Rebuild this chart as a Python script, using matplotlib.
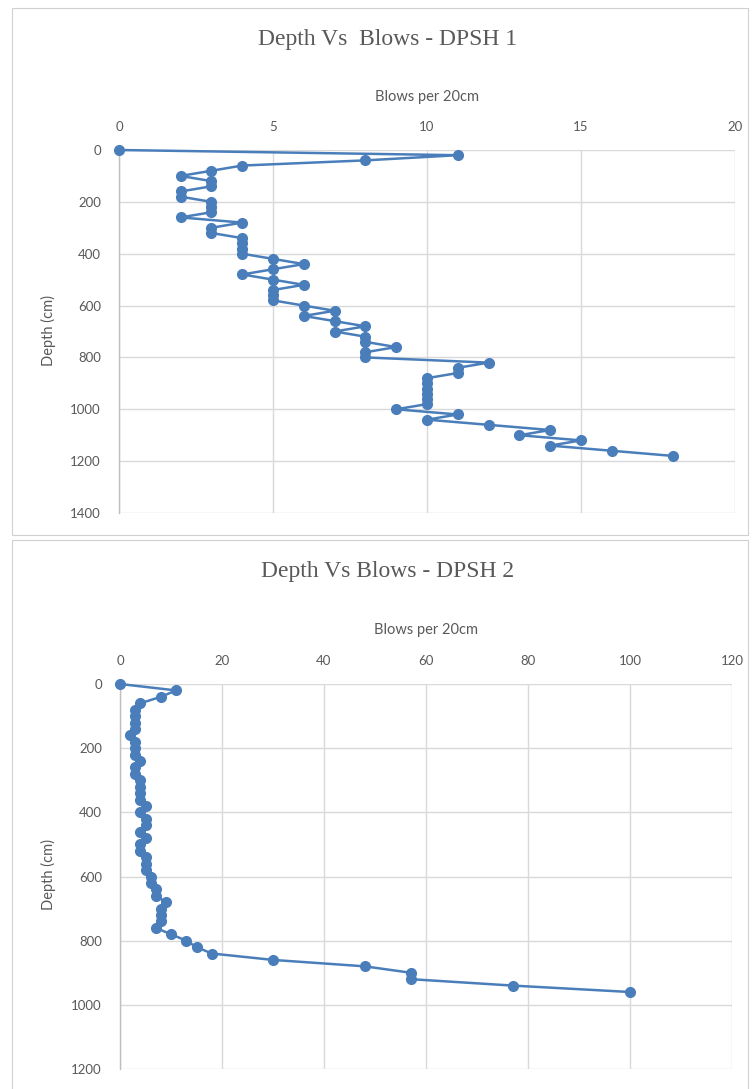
import matplotlib
matplotlib.use("Agg")
import matplotlib.pyplot as plt
from matplotlib.patches import Rectangle

# ---------------- data ----------------
depth1 = list(range(0, 1200, 20))
blows1 = [0, 11, 8, 4, 3, 2, 3, 3, 2, 2,
          3, 3, 3, 2, 4, 3, 3, 4, 4, 4,
          4, 5, 6, 5, 4, 5, 6, 5, 5, 5,
          6, 7, 6, 7, 8, 7, 8, 8, 9, 8,
          8, 12, 11, 11, 10, 10, 10, 10, 10, 10,
          9, 11, 10, 12, 14, 13, 15, 14, 16, 18]

depth2 = list(range(0, 980, 20))
blows2 = [0, 11, 8, 4, 3, 3, 3, 3, 2, 3,
          3, 3, 4, 3, 3, 4, 4, 4, 4, 5,
          4, 5, 5, 4, 5, 4, 4, 5, 5, 5,
          6, 6, 7, 7, 9, 8, 8, 8, 7, 10,
          13, 15, 18, 30, 48, 57, 57, 77, 100]

title1 = "Depth Vs  Blows - DPSH 1"
title2 = "Depth Vs Blows - DPSH 2"
xlabel = "Blows per 20cm"
ylabel = "Depth (cm)"
xticks1 = [0, 5, 10, 15, 20]
yticks1 = [0, 200, 400, 600, 800, 1000, 1200, 1400]
xticks2 = [0, 20, 40, 60, 80, 100, 120]
yticks2 = [0, 200, 400, 600, 800, 1000, 1200]

# ---------------- style ----------------
W, H = 753, 1089
TXT = "#595959"
LINE = "#4a7ebb"
GRID = "#d9d9d9"
SANS = ["Lato", "DejaVu Sans"]
SERIF = ["Liberation Serif", "DejaVu Serif"]

fig = plt.figure(figsize=(W / 100, H / 100), dpi=100)

def fx(px):
    return px / W

def fy(py):
    return 1 - py / H

# chart borders
fig.patches.append(Rectangle((fx(12), fy(535)), fx(748) - fx(12), fy(8) - fy(535),
                             transform=fig.transFigure, fill=False,
                             edgecolor="#d0d0d0", linewidth=0.8))
fig.patches.append(Rectangle((fx(12), fy(1095)), fx(748) - fx(12), fy(540) - fy(1095),
                             transform=fig.transFigure, fill=False,
                             edgecolor="#d0d0d0", linewidth=0.8))


def make_chart(rect, x, y, xt, yt, title, ty, xl_y, yl_y, title_x):
    l, t, r, b = rect
    ax = fig.add_axes([fx(l), fy(b), fx(r) - fx(l), fy(t) - fy(b)])
    ax.plot(x, y, color=LINE, linewidth=1.8, marker="o", markersize=7,
            markerfacecolor=LINE, markeredgecolor=LINE, zorder=3,
            clip_on=False)
    ax.set_xlim(xt[0], xt[-1])
    ax.set_ylim(yt[-1], yt[0])
    ax.set_xticks(xt)
    ax.set_yticks(yt)
    ax.xaxis.tick_top()
    ax.tick_params(axis="both", length=0, labelsize=9.5, labelcolor=TXT)
    ax.tick_params(axis="x", pad=12)
    ax.tick_params(axis="y", pad=13)
    for lab in ax.get_xticklabels() + ax.get_yticklabels():
        lab.set_family(SANS)
    ax.grid(True, color=GRID, linewidth=1.0)
    ax.set_axisbelow(True)
    for s in ["top", "right", "bottom"]:
        ax.spines[s].set_visible(False)
    ax.spines["left"].set_color("#bfbfbf")
    ax.spines["left"].set_linewidth(1.0)
    ax.patch.set_alpha(0)
    fig.text(title_x, fy(ty), title, ha="center", va="center",
             fontsize=17, color=TXT, family=SERIF)
    fig.text(fx((l + r) / 2), fy(xl_y), xlabel, ha="center", va="center",
             fontsize=10.5, color=TXT, family=SANS)
    fig.text(fx(48), fy(yl_y), ylabel, ha="center", va="center", rotation=90,
             fontsize=10.5, color=TXT, family=SANS)
    return ax


make_chart((119, 150, 735, 513), blows1, depth1, xticks1, yticks1,
           title1, 40, 97, 330, fx(388))
make_chart((120, 684, 732, 1069), blows2, depth2, xticks2, yticks2,
           title2, 572, 630, 875, fx(388))

fig.savefig("out.png", dpi=100, facecolor="white")
